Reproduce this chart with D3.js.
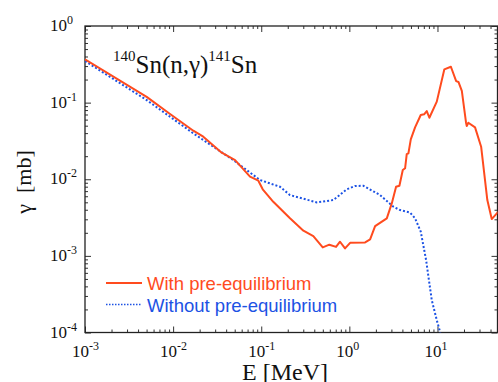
<!DOCTYPE html>
<meta charset="utf-8">
<script src="https://d3js.org/d3.v7.min.js"></script>
<style>
  body{ margin:0; background:#fff; }
  svg text{ font-family:'Liberation Serif','Times New Roman',serif; fill:#111; }
  .leg{ font-family:'Liberation Sans',Arial,sans-serif !important; }
</style>
<div id="chart"></div>
<script>
// energy (MeV) and cross section (mb)
var withPreE = [0.001,0.00501,0.00923,0.01695,0.022,0.0356,0.0505,0.0746,0.0927,0.104,0.137,0.212,0.301,0.39,0.499,0.593,0.706,0.784,0.893,1.02,1.51,1.72,1.96,2.66,3.03,3.39,3.7,4.04,4.29,4.48,4.68,4.98,5.57,6.46,7.05,7.56,8.09,9.82,11.97,14.2,16.3,17.3,18.9,21.1,21.5,22.4,26.7,31.3,36.8,41.3,49.1]
var withPreS = [0.367,0.119,0.071,0.043,0.0359,0.0222,0.0178,0.0108,0.00957,0.00739,0.00508,0.00309,0.00213,0.00181,0.00129,0.0014,0.00131,0.00153,0.00125,0.00148,0.0015,0.00164,0.00245,0.00309,0.00484,0.00798,0.00822,0.0132,0.0139,0.0213,0.0218,0.0332,0.0476,0.0689,0.0704,0.0777,0.0635,0.103,0.272,0.294,0.191,0.186,0.142,0.0547,0.0495,0.0547,0.0476,0.0266,0.00535,0.00302,0.00377]

var noPreE = [0.001,0.00501,0.01695,0.0482,0.0968,0.163,0.212,0.427,0.658,0.933,1.16,1.44,2.23,3.16,3.76,4.89,5.57,6.46,7.43,8.61,9.82,10.7,11.2]
var noPreS = [0.349,0.108,0.0397,0.0178,0.00977,0.00798,0.00622,0.00499,0.00535,0.00738,0.00815,0.00822,0.00622,0.00438,0.00396,0.00367,0.00309,0.00207,0.000881,0.000265,0.000145,0.000102,0.00006]

var xDecades = [-3,-2,-1,0,1]
var yDecades = [0,-1,-2,-3,-4]
var legendLabels = ["With pre-equilibrium","Without pre-equilibrium"]

var w = 498, h = 382
var pL = 85, pR = 497.5, pT = 26, pB = 332.5
var red = "#ff4b1e", blue = "#1c52e4"

var x = d3.scaleLog().domain([0.001,48]).range([pL,pR])
var y = d3.scaleLog().domain([1e-4,1]).range([pB,pT])

var svg = d3.select("#chart").append("svg").attr("width",w).attr("height",h)

svg.append("clipPath").attr("id","clip").append("rect")
  .attr("x",pL).attr("y",pT).attr("width",pR-pL).attr("height",pB-pT)

// minor tick values
function minors(scale){
  var d = scale.domain(), out = []
  var lo = Math.floor(Math.log10(d[0])), hi = Math.ceil(Math.log10(d[1]))
  for(var k=lo;k<hi;k++){
    for(var m=2;m<10;m++){
      var v = m*Math.pow(10,k)
      if(v>d[0] && v<d[1]) out.push(v)
    }
  }
  return out
}
var xMaj = xDecades.map(function(d){return Math.pow(10,d)})
var yMaj = yDecades.map(function(d){return Math.pow(10,d)})

function tickG(axisFn, scale, vals, size, tr){
  svg.append("g").attr("transform",tr)
    .call(axisFn(scale).tickValues(vals).tickSize(-size).tickFormat(""))
    .call(function(g){ g.select(".domain").remove() })
    .selectAll("line").attr("stroke","#333").attr("stroke-width",1)
}
tickG(d3.axisBottom, x, xMaj, 6, "translate(0,"+pB+")")
tickG(d3.axisBottom, x, minors(x), 3, "translate(0,"+pB+")")
tickG(d3.axisTop, x, xMaj, 6, "translate(0,"+pT+")")
tickG(d3.axisTop, x, minors(x), 3, "translate(0,"+pT+")")
tickG(d3.axisLeft, y, yMaj, 6, "translate("+pL+",0)")
tickG(d3.axisLeft, y, minors(y), 3, "translate("+pL+",0)")
tickG(d3.axisRight, y, yMaj, 6, "translate("+pR+",0)")
tickG(d3.axisRight, y, minors(y), 3, "translate("+pR+",0)")

// frame
svg.append("rect").attr("x",pL).attr("y",pT).attr("width",pR-pL).attr("height",pB-pT)
  .attr("fill","none").attr("stroke","#222").attr("stroke-width",1.3)

// tick labels 10^n
function powLabel(g, n){
  g.append("tspan").text("10")
  g.append("tspan").text(n).attr("dy",-7).style("font-size","12px")
}
xDecades.forEach(function(d){
  var t = svg.append("text").attr("x",x(Math.pow(10,d))-13).attr("y",pB+24)
    .style("font-size","17px")
  powLabel(t, d)
})
yDecades.forEach(function(d){
  var t = svg.append("text").attr("x",pL-35).attr("y",y(Math.pow(10,d))+5)
    .style("font-size","17px")
  powLabel(t, d)
})

// curves
var line = d3.line().x(function(d){return x(d[0])}).y(function(d){return y(d[1])})
var g = svg.append("g").attr("clip-path","url(#clip)")
g.append("path").datum(d3.zip(noPreE,noPreS)).attr("d",line)
  .attr("fill","none").attr("stroke",blue).attr("stroke-width",2).attr("stroke-dasharray","2 2")
g.append("path").datum(d3.zip(withPreE,withPreS)).attr("d",line)
  .attr("fill","none").attr("stroke",red).attr("stroke-width",2).attr("stroke-linejoin","round")

// title
var title = svg.append("text").attr("x",113).attr("y",73).style("font-size","25px")
title.append("tspan").text("140").attr("dy",-12).style("font-size","15px")
title.append("tspan").text("Sn(n,γ)").attr("dy",12)
title.append("tspan").text("141").attr("dy",-12).style("font-size","15px")
title.append("tspan").text("Sn").attr("dy",12)

// axis titles
svg.append("text").attr("x",285).attr("y",380).attr("text-anchor","middle")
  .style("font-size","24px").text("E [MeV]")
svg.append("text").attr("transform","translate(31,182) rotate(-90)").attr("text-anchor","middle")
  .style("font-size","22px").attr("xml:space","preserve").text("γ  [mb]")

// legend
var legColors = [red, blue]
legendLabels.forEach(function(lab,i){
  var ly = 283 + i*21.5
  svg.append("line").attr("x1",106).attr("x2",142).attr("y1",ly).attr("y2",ly)
    .attr("stroke",legColors[i]).attr("stroke-width",i==0?2:1.6)
    .attr("stroke-dasharray",i==0?null:"1.5 1.5")
  svg.append("text").attr("class","leg").attr("x",147).attr("y",ly+7)
    .style("font-size","18.5px").style("fill",legColors[i]).text(lab)
})
</script>
